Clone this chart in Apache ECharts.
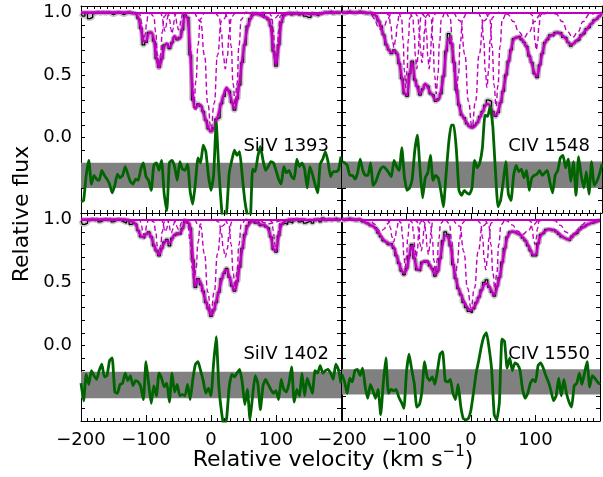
<!DOCTYPE html>
<html><head><meta charset="utf-8">
<script src="https://cdn.jsdelivr.net/npm/echarts@6/dist/echarts.min.js"></script>
<style>html,body{margin:0;padding:0;background:#fff}#c{width:603px;height:477px}</style>
</head><body><div id="c"></div>
<script>
// ---- data ----
const VEL = [-200,-196,-192,-188,-184,-180,-176,-172,-168,-164,-160,-156,-152,-148,-144,-140,-136,-132,-128,-124,-120,-116,-112,-108,-104,-100,-96,-92,-88,-84,-80,-76,-72,-68,-64,-60,-56,-52,-48,-44,-40,-36,-32,-28,-24,-20,-16,-12,-8,-4,0,4,8,12,16,20,24,28,32,36,40,44,48,52,56,60,64,68,72,76,80,84,88,92,96,100,104,108,112,116,120,124,128,132,136,140,144,148,152,156,160,164,168,172,176,180,184,188,192,196,200];

const LABELS = ['SiIV 1393','CIV 1548','SiIV 1402','CIV 1550'];
const X_TICKS = [-200,-100,0,100];
const Y_TICKS = [0.0,0.5,1.0];

// SiIV 1393 (top left)
const tlFlux = [0.99,0.97,0.99,0.95,0.96,0.99,1.0,0.99,1.0,0.99, 1.0,0.99,0.98,0.99,1.0,0.99,0.98,0.99,1.0,0.99,
 0.99,0.98,0.95,0.87,0.74,0.76,0.84,0.83,0.77,0.63, 0.56,0.63,0.74,0.75,0.71,0.76,0.80,0.78,0.80,0.86,
 0.98,0.96,0.66,0.30,0.24,0.27,0.25,0.21,0.14,0.07, 0.05,0.08,0.15,0.16,0.27,0.33,0.38,0.37,0.28,0.22,
 0.31,0.42,0.60,0.74,0.89,0.95,0.99,0.99,0.98,0.97, 0.99,0.96,0.94,0.89,0.69,0.57,0.74,0.92,0.98,0.99,
 1.0,0.98,0.99,1.0,0.98,0.99,0.97,0.96,0.96,0.99, 0.98,0.97,0.99,1.0,0.99,1.0,1.01,0.99,1.0,0.99,1.0];
const tlFit = [1,1,1,1,1,1,1,1,1,1, 1,1,1,1,1,1,1,1,1,1,
 0.995,0.99,0.96,0.88,0.77,0.77,0.83,0.84,0.78,0.64, 0.56,0.62,0.72,0.75,0.72,0.75,0.81,0.79,0.79,0.87,
 0.97,0.95,0.68,0.33,0.23,0.26,0.26,0.20,0.14,0.08, 0.05,0.07,0.13,0.20,0.28,0.35,0.40,0.36,0.29,0.23,
 0.30,0.45,0.62,0.76,0.87,0.94,0.975,0.985,0.985,0.98, 0.97,0.96,0.95,0.88,0.70,0.58,0.72,0.91,0.97,0.985,
 0.99,0.99,0.99,0.99,0.99,0.99,0.99,0.99,0.985,0.985, 0.985,0.985,0.985,0.99,1,1,1,1,1,1,1];
const tlResid = [-0.51,-0.50,-0.30,-0.18,-0.37,-0.30,-0.33,-0.34,-0.26,-0.30, -0.33,-0.37,-0.44,-0.38,-0.29,-0.32,-0.30,-0.23,-0.29,-0.35,
 -0.37,-0.33,-0.34,-0.25,-0.20,-0.31,-0.34,-0.42,-0.22,-0.20, -0.26,-0.18,-0.45,-0.58,-0.20,-0.18,-0.23,-0.34,-0.19,-0.25,
 -0.26,-0.21,-0.43,-0.53,-0.36,-0.16,-0.20,-0.06,-0.11,-0.30, -0.42,-0.30,0.12,-0.25,-0.55,-0.75,-0.60,-0.28,-0.18,-0.10,
 -0.14,-0.11,-0.30,-0.50,-0.62,-0.70,-0.25,-0.27,-0.15,-0.07, -0.18,-0.26,-0.23,-0.19,-0.20,-0.26,-0.33,-0.37,-0.23,-0.28,
 -0.26,-0.31,-0.33,-0.17,-0.23,-0.20,-0.25,-0.40,-0.23,-0.29, -0.37,-0.44,-0.21,-0.17,-0.11,-0.19,-0.31,-0.27,-0.27,-0.26,-0.15];
const tlBand = [-0.40,-0.20];
const tlComps = [
 [[-113,1],[-109.4,0.983],[-107,0.919],[-105,0.829],[-103,0.78],[-101,0.829],[-99,0.919],[-96.6,0.983],[-93,1]],
 [[-92.5,1],[-88,0.967],[-85,0.842],[-82.5,0.665],[-80,0.57],[-77.5,0.665],[-75,0.842],[-72,0.967],[-67.5,1]],
 [[-79.75,1],[-76.6,0.988],[-74.5,0.945],[-72.75,0.883],[-71,0.85],[-69.25,0.883],[-67.5,0.945],[-65.4,0.988],[-62.25,1]],
 [[-68.75,1],[-65.6,0.987],[-63.5,0.937],[-61.75,0.868],[-60,0.83],[-58.25,0.868],[-56.5,0.937],[-54.4,0.987],[-51.25,1]],
 [[-60,1],[-56.4,0.989],[-54,0.948],[-52,0.891],[-50,0.86],[-48,0.891],[-46,0.948],[-43.6,0.989],[-40,1]],
 [[-41,1],[-35.6,0.946],[-32,0.742],[-29,0.455],[-26,0.3],[-23,0.455],[-20,0.742],[-16.4,0.946],[-11,1]],
 [[-25,1],[-16,0.928],[-10,0.658],[-5,0.276],[0,0.07],[5,0.276],[10,0.658],[16,0.928],[25,1]],
 [[7,1],[12.4,0.965],[16,0.834],[19,0.649],[22,0.55],[25,0.649],[28,0.834],[31.6,0.965],[37,1]],
 [[22,1],[27.4,0.944],[31,0.731],[34,0.431],[37,0.27],[40,0.431],[43,0.731],[46.6,0.944],[52,1]],
 [[90,1],[93.6,0.969],[96,0.853],[98,0.688],[100,0.6],[102,0.688],[104,0.853],[106.4,0.969],[110,1]],
 [[52.5,1],[66,0.995],[75,0.978],[82.5,0.953],[90,0.94],[97.5,0.953],[105,0.978],[114,0.995],[127.5,1]]
];

// CIV 1548 (top right)
const trFlux = [1.0,0.99,1.0,1.01,1.0,0.99,1.0,1.01,1.0,0.99, 0.99,1.0,0.98,0.97,0.93,0.89,0.82,0.74,0.70,0.67,
 0.70,0.67,0.59,0.47,0.35,0.33,0.51,0.61,0.46,0.41, 0.34,0.39,0.42,0.41,0.35,0.34,0.29,0.31,0.35,0.49,
 0.69,0.83,0.75,0.60,0.38,0.26,0.18,0.16,0.11,0.09, 0.08,0.10,0.12,0.17,0.21,0.26,0.30,0.29,0.21,0.17,
 0.20,0.28,0.37,0.50,0.61,0.70,0.79,0.80,0.81,0.78, 0.76,0.73,0.65,0.60,0.51,0.48,0.58,0.67,0.76,0.78,
 0.82,0.81,0.84,0.83,0.84,0.80,0.80,0.76,0.73,0.75, 0.77,0.78,0.82,0.83,0.87,0.88,0.91,0.94,0.95,0.97,0.99];
const trFit = [1,1,1,1,1,1,1,1,1,1, 0.995,0.995,0.99,0.97,0.94,0.88,0.82,0.75,0.70,0.68,
 0.69,0.68,0.60,0.48,0.36,0.34,0.50,0.60,0.47,0.40, 0.35,0.38,0.43,0.40,0.36,0.33,0.30,0.30,0.37,0.48,
 0.68,0.79,0.76,0.61,0.40,0.26,0.19,0.15,0.12,0.09, 0.08,0.09,0.12,0.16,0.20,0.25,0.27,0.25,0.20,0.18,
 0.21,0.28,0.38,0.49,0.60,0.70,0.78,0.80,0.80,0.79, 0.76,0.72,0.66,0.59,0.52,0.49,0.57,0.67,0.75,0.79,
 0.81,0.82,0.83,0.84,0.83,0.81,0.79,0.76,0.745,0.75, 0.77,0.79,0.81,0.84,0.86,0.89,0.91,0.93,0.95,0.97,0.99];
const trResid = [-0.19,-0.20,-0.22,-0.30,-0.30,-0.33,-0.28,-0.17,-0.26,-0.30, -0.30,-0.20,-0.38,-0.35,-0.29,-0.245,-0.23,-0.25,-0.28,-0.31,
 -0.18,-0.23,-0.26,-0.08,-0.31,-0.42,-0.40,-0.33,-0.10,0.02, -0.25,-0.48,-0.32,-0.28,-0.14,-0.34,-0.30,-0.32,-0.42,-0.55,
 -0.30,-0.05,0.10,0.10,-0.10,-0.42,-0.46,-0.42,-0.44,-0.45, -0.40,-0.18,-0.24,-0.20,-0.08,0.18,0.17,0.25,0.09,-0.26,
 -0.55,-0.50,-0.35,-0.19,-0.45,-0.50,-0.30,-0.22,-0.27,-0.25, -0.32,-0.26,-0.42,-0.32,-0.30,-0.29,-0.26,-0.30,-0.28,-0.26,
 -0.36,-0.44,-0.30,-0.26,-0.16,-0.14,-0.24,-0.17,-0.35,-0.19, -0.46,-0.15,-0.30,-0.40,-0.27,-0.45,-0.19,-0.38,-0.35,-0.29,-0.21];
const trBand = [-0.40,-0.19];
const trComps = [
 [[-165,1],[-156,0.989],[-150,0.948],[-145,0.891],[-140,0.86],[-135,0.891],[-130,0.948],[-124,0.989],[-115,1]],
 [[-132.5,1],[-128,0.978],[-125,0.897],[-122.5,0.782],[-120,0.72],[-117.5,0.782],[-115,0.897],[-112,0.978],[-107.5,1]],
 [[-112,1],[-108.4,0.954],[-106,0.779],[-104,0.533],[-102,0.4],[-100,0.533],[-98,0.779],[-95.6,0.954],[-92,1]],
 [[-95,1],[-91.4,0.965],[-89,0.834],[-87,0.649],[-85,0.55],[-83,0.649],[-81,0.834],[-78.6,0.965],[-75,1]],
 [[-87,1],[-83.4,0.969],[-81,0.853],[-79,0.688],[-77,0.6],[-75,0.688],[-73,0.853],[-70.6,0.969],[-67,1]],
 [[-76,1],[-72.4,0.965],[-70,0.834],[-68,0.649],[-66,0.55],[-64,0.649],[-62,0.834],[-59.6,0.965],[-56,1]],
 [[-67.5,1],[-63,0.95],[-60,0.761],[-57.5,0.494],[-55,0.35],[-52.5,0.494],[-50,0.761],[-47,0.95],[-42.5,1]],
 [[-39,1],[-33.6,0.95],[-30,0.761],[-27,0.494],[-24,0.35],[-21,0.494],[-18,0.761],[-14.4,0.95],[-9,1]],
 [[-27.5,1],[-17.6,0.93],[-11,0.665],[-5.5,0.291],[0,0.09],[5.5,0.291],[11,0.665],[17.6,0.93],[27.5,1]],
 [[10.5,1],[15,0.954],[18,0.779],[20.5,0.533],[23,0.4],[25.5,0.533],[28,0.779],[31,0.954],[35.5,1]],
 [[22,1],[27.4,0.942],[31,0.724],[34,0.416],[37,0.25],[40,0.416],[43,0.724],[46.6,0.942],[52,1]],
 [[40,1],[54.4,0.985],[64,0.926],[72,0.844],[80,0.8],[88,0.844],[96,0.926],[105.6,0.985],[120,1]],
 [[89,1],[92.6,0.977],[95,0.89],[97,0.766],[99,0.7],[101,0.766],[103,0.89],[105.4,0.977],[109,1]],
 [[115,1],[129.4,0.985],[139,0.926],[147,0.844],[155,0.8],[163,0.844],[171,0.926],[180.6,0.985],[195,1]]
];

// SiIV 1402 (bottom left)
const blFlux = [0.99,0.96,0.97,0.99,1.0,0.99,1.0,0.98,0.99,1.0, 0.99,1.0,0.98,0.99,1.0,0.99,0.98,0.97,0.99,0.96,
 0.97,0.96,0.91,0.86,0.85,0.88,0.90,0.86,0.79,0.75, 0.71,0.77,0.82,0.84,0.79,0.85,0.87,0.89,0.88,0.93,
 0.99,0.97,0.93,0.68,0.46,0.53,0.48,0.43,0.34,0.29, 0.23,0.28,0.34,0.42,0.53,0.57,0.61,0.54,0.47,0.43,
 0.51,0.62,0.77,0.88,0.95,0.98,0.99,0.97,0.98,0.95, 0.96,0.94,0.93,0.86,0.76,0.74,0.87,0.96,0.97,0.96,
 0.98,0.97,0.99,1.0,0.98,0.99,0.97,0.98,0.99,0.97, 0.99,1.0,0.98,1.01,0.99,1.0,0.99,1.0,1.01,0.99,1.0];
const blFit = [1,1,1,1,1,1,1,1,1,1, 1,1,1,1,1,1,1,1,0.995,0.985,
 0.98,0.96,0.91,0.87,0.86,0.88,0.89,0.86,0.80,0.75, 0.72,0.76,0.81,0.83,0.81,0.84,0.88,0.88,0.89,0.92,
 0.98,0.98,0.94,0.70,0.47,0.52,0.50,0.42,0.35,0.29, 0.24,0.27,0.35,0.43,0.51,0.58,0.60,0.55,0.48,0.44,
 0.49,0.63,0.76,0.87,0.94,0.97,0.985,0.98,0.97,0.96, 0.955,0.95,0.92,0.86,0.77,0.75,0.86,0.95,0.98,0.99,
 1,1,1,1,1,1,1,0.995,0.995,0.995, 1,1,1,1,1,1,1,1,1,1,1];
const blResid = [-0.30,-0.44,-0.23,-0.31,-0.20,-0.24,-0.27,-0.20,-0.15,-0.25, -0.24,-0.12,-0.10,-0.37,-0.38,-0.31,-0.30,-0.22,-0.28,-0.24,
 -0.32,-0.28,-0.29,-0.33,-0.43,-0.13,-0.30,-0.46,-0.32,-0.40, -0.22,-0.26,-0.33,-0.30,-0.45,-0.22,-0.37,-0.31,-0.40,-0.39,
 -0.40,-0.31,-0.43,-0.27,-0.15,-0.13,-0.20,-0.28,-0.38,-0.34, -0.40,-0.14,0.07,-0.32,-0.52,-0.65,-0.58,-0.33,-0.23,-0.25,
 -0.22,-0.19,-0.29,-0.47,-0.35,-0.59,-0.40,-0.24,-0.30,-0.51, -0.32,-0.27,-0.31,-0.35,-0.38,-0.36,-0.43,-0.27,-0.35,-0.37,
 -0.30,-0.17,-0.45,-0.35,-0.40,-0.22,-0.40,-0.26,-0.32,-0.38, -0.20,-0.22,-0.16,-0.22,-0.20,-0.19,-0.22,-0.27,-0.15,-0.19,-0.30];
const blBand = [-0.42,-0.21];
const blComps = [
 [[-113,1],[-109.4,0.99],[-107,0.952],[-105,0.899],[-103,0.87],[-101,0.899],[-99,0.952],[-96.6,0.99],[-93,1]],
 [[-92.5,1],[-88,0.979],[-85,0.901],[-82.5,0.79],[-80,0.73],[-77.5,0.79],[-75,0.901],[-72,0.979],[-67.5,1]],
 [[-78.75,1],[-75.6,0.992],[-73.5,0.963],[-71.75,0.922],[-70,0.9],[-68.25,0.922],[-66.5,0.963],[-64.4,0.992],[-61.25,1]],
 [[-69.75,1],[-66.6,0.992],[-64.5,0.96],[-62.75,0.914],[-61,0.89],[-59.25,0.914],[-57.5,0.96],[-55.4,0.992],[-52.25,1]],
 [[-60,1],[-56.4,0.994],[-54,0.971],[-52,0.938],[-50,0.92],[-48,0.938],[-46,0.971],[-43.6,0.994],[-40,1]],
 [[-41,1],[-35.6,0.962],[-32,0.816],[-29,0.611],[-26,0.5],[-23,0.611],[-20,0.816],[-16.4,0.962],[-11,1]],
 [[-25,1],[-16,0.943],[-10,0.728],[-5,0.424],[0,0.26],[5,0.424],[10,0.728],[16,0.943],[25,1]],
 [[7,1],[12.4,0.977],[16,0.89],[19,0.766],[22,0.7],[25,0.766],[28,0.89],[31.6,0.977],[37,1]],
 [[22,1],[27.4,0.958],[31,0.801],[34,0.579],[37,0.46],[40,0.579],[43,0.801],[46.6,0.958],[52,1]],
 [[90,1],[93.6,0.981],[96,0.908],[98,0.805],[100,0.75],[102,0.805],[104,0.908],[106.4,0.981],[110,1]],
 [[52.5,1],[66,0.997],[75,0.987],[82.5,0.973],[90,0.965],[97.5,0.973],[105,0.987],[114,0.997],[127.5,1]]
];

// CIV 1550 (bottom right)
const brFlux = [1.0,0.99,1.0,1.01,1.0,0.99,0.99,1.0,0.98,0.97, 0.97,0.95,0.94,0.93,0.89,0.86,0.83,0.82,0.80,0.81,
 0.77,0.71,0.65,0.59,0.56,0.61,0.71,0.80,0.69,0.60, 0.59,0.66,0.66,0.67,0.63,0.61,0.55,0.59,0.69,0.83,
 0.90,0.88,0.79,0.64,0.53,0.45,0.40,0.34,0.30,0.27, 0.26,0.29,0.34,0.38,0.44,0.50,0.52,0.46,0.42,0.39,
 0.47,0.54,0.66,0.77,0.86,0.90,0.90,0.89,0.88,0.87, 0.85,0.83,0.79,0.75,0.71,0.71,0.81,0.88,0.89,0.92,
 0.92,0.91,0.92,0.90,0.88,0.86,0.85,0.84,0.83,0.86, 0.88,0.89,0.92,0.94,0.94,0.96,0.97,0.97,0.98,0.99,0.99];
const brFit = [1,1,1,1,1,1,1,1,0.99,0.975, 0.965,0.955,0.945,0.925,0.90,0.87,0.84,0.82,0.81,0.80,
 0.78,0.72,0.66,0.60,0.575,0.60,0.70,0.79,0.70,0.61, 0.60,0.65,0.67,0.665,0.64,0.60,0.565,0.58,0.68,0.80,
 0.87,0.86,0.80,0.66,0.54,0.46,0.41,0.36,0.32,0.29, 0.28,0.30,0.33,0.38,0.43,0.48,0.49,0.47,0.43,0.40,
 0.45,0.53,0.64,0.75,0.85,0.89,0.905,0.90,0.89,0.88, 0.86,0.835,0.80,0.76,0.72,0.72,0.80,0.87,0.895,0.91,
 0.92,0.92,0.915,0.905,0.89,0.87,0.855,0.845,0.84,0.855, 0.88,0.90,0.915,0.93,0.945,0.955,0.965,0.975,0.98,0.985,0.99];
const brResid = [-0.23,-0.29,-0.38,-0.26,-0.29,-0.20,-0.19,-0.24,-0.18,-0.33, -0.42,-0.31,-0.36,-0.42,-0.35,-0.55,-0.30,-0.10,-0.38,-0.35,
 -0.36,-0.35,-0.41,-0.45,-0.50,-0.21,-0.07,-0.19,-0.30,-0.49, -0.47,-0.36,-0.13,-0.25,-0.28,-0.25,-0.31,-0.20,-0.07,-0.05,
 -0.28,-0.29,-0.27,-0.38,-0.43,-0.31,-0.48,-0.58,-0.59,-0.58, -0.51,-0.37,-0.22,-0.12,-0.01,0.07,0.10,-0.02,-0.19,-0.55,
 -0.59,-0.45,0.05,0.03,-0.18,-0.10,-0.20,-0.14,-0.15,-0.20, -0.35,-0.42,-0.38,-0.30,-0.27,-0.29,-0.16,-0.14,-0.18,-0.24,
 -0.29,-0.36,-0.44,-0.40,-0.26,-0.40,-0.27,-0.38,-0.45,-0.49, -0.32,-0.30,-0.22,-0.31,-0.22,-0.13,-0.33,-0.24,-0.26,-0.29,-0.31];
const brBand = [-0.39,-0.19];
const brComps = [
 [[-165,1],[-156,0.992],[-150,0.963],[-145,0.922],[-140,0.9],[-135,0.922],[-130,0.963],[-124,0.992],[-115,1]],
 [[-132.5,1],[-128,0.986],[-125,0.934],[-122.5,0.86],[-120,0.82],[-117.5,0.86],[-115,0.934],[-112,0.986],[-107.5,1]],
 [[-112,1],[-108.4,0.971],[-106,0.86],[-104,0.704],[-102,0.62],[-100,0.704],[-98,0.86],[-95.6,0.971],[-92,1]],
 [[-95,1],[-91.4,0.977],[-89,0.89],[-87,0.766],[-85,0.7],[-83,0.766],[-81,0.89],[-78.6,0.977],[-75,1]],
 [[-87,1],[-83.4,0.981],[-81,0.908],[-79,0.805],[-77,0.75],[-75,0.805],[-73,0.908],[-70.6,0.981],[-67,1]],
 [[-76,1],[-72.4,0.978],[-70,0.897],[-68,0.782],[-66,0.72],[-64,0.782],[-62,0.897],[-59.6,0.978],[-56,1]],
 [[-67.5,1],[-63,0.968],[-60,0.845],[-57.5,0.673],[-55,0.58],[-52.5,0.673],[-50,0.845],[-47,0.968],[-42.5,1]],
 [[-39,1],[-33.6,0.965],[-30,0.834],[-27,0.649],[-24,0.55],[-21,0.649],[-18,0.834],[-14.4,0.965],[-9,1]],
 [[-27.5,1],[-17.6,0.946],[-11,0.742],[-5.5,0.455],[0,0.3],[5.5,0.455],[11,0.742],[17.6,0.946],[27.5,1]],
 [[10.5,1],[15,0.969],[18,0.853],[20.5,0.688],[23,0.6],[25.5,0.688],[28,0.853],[31,0.969],[35.5,1]],
 [[22,1],[27.4,0.958],[31,0.798],[34,0.572],[37,0.45],[40,0.572],[43,0.798],[46.6,0.958],[52,1]],
 [[40,1],[54.4,0.991],[64,0.956],[72,0.907],[80,0.88],[88,0.907],[96,0.956],[105.6,0.991],[120,1]],
 [[89,1],[92.6,0.985],[95,0.926],[97,0.844],[99,0.8],[101,0.844],[103,0.926],[105.4,0.985],[109,1]],
 [[115,1],[129.4,0.99],[139,0.952],[147,0.899],[155,0.87],[163,0.899],[171,0.952],[180.6,0.99],[195,1]]
];

// ---- chart ----
const PANELS = [
  {flux: tlFlux, fit: tlFit, resid: tlResid, band: tlBand, comps: tlComps},
  {flux: trFlux, fit: trFit, resid: trResid, band: trBand, comps: trComps},
  {flux: blFlux, fit: blFit, resid: blResid, band: blBand, comps: blComps},
  {flux: brFlux, fit: brFit, resid: brResid, band: brBand, comps: brComps}
];
const FONT = "'DejaVu Sans', 'Liberation Sans', sans-serif";
const MAG = '#bf00bf';
const grids = [
  {left: 81, top: 6, width: 260, height: 207},
  {left: 342, top: 6, width: 260, height: 207},
  {left: 81, top: 213, width: 260, height: 208},
  {left: 342, top: 213, width: 260, height: 208}
];
const minus = v => (v < 0 ? '\u2212' + Math.abs(v) : String(v));
const xAxes = [], yAxes = [];
grids.forEach((g, gi) => {
  const bottomRow = gi >= 2, leftCol = gi % 2 === 0;
  ['bottom', 'top'].forEach(pos => {
    xAxes.push({
      gridIndex: gi, type: 'value', min: -200, max: 200, interval: 100, position: pos,
      axisLine: {show: true, onZero: false, lineStyle: {color: '#000', width: 1}},
      axisTick: {show: true, inside: true, length: 6, lineStyle: {color: '#000', width: 1}},
      minorTick: {show: true, splitNumber: 10, length: 3, lineStyle: {color: '#000', width: 1}},
      splitLine: {show: false}, minorSplitLine: {show: false},
      axisLabel: {show: bottomRow && pos === 'bottom', margin: 10, color: '#000', fontFamily: FONT, fontSize: 18,
        formatter: v => (X_TICKS.indexOf(v) >= 0 ? minus(v) : '')}
    });
  });
  ['left', 'right'].forEach(pos => {
    yAxes.push({
      gridIndex: gi, type: 'value', min: -0.6, max: 1.05, interval: 0.1, position: pos,
      axisLine: {show: true, onZero: false, lineStyle: {color: '#000', width: 1}},
      axisTick: {show: true, inside: true, length: 4, lineStyle: {color: '#000', width: 1}},
      splitLine: {show: false},
      axisLabel: {show: leftCol && pos === 'left', margin: 9, color: '#000', fontFamily: FONT, fontSize: 18,
        formatter: v => {
          const hit = Y_TICKS.find(t => Math.abs(t - v) < 1e-6);
          return hit === undefined ? '' : hit.toFixed(1);
        }}
    });
  });
});

const series = [];
PANELS.forEach((p, gi) => {
  const xi = gi * 2, yi = gi * 2;
  const dataPts = VEL.map((v, i) => [v, p.flux[i]]);
  series.push({type: 'line', xAxisIndex: xi, yAxisIndex: yi, data: dataPts, step: 'middle', symbol: 'none',
    lineStyle: {color: '#c8c8c8', width: 5}, z: 1, silent: true});
  series.push({type: 'line', xAxisIndex: xi, yAxisIndex: yi, data: dataPts, step: 'middle', symbol: 'none',
    lineStyle: {color: '#000', width: 1.3}, z: 2, silent: true});
  p.comps.forEach(c => {
    series.push({type: 'line', xAxisIndex: xi, yAxisIndex: yi, data: c, smooth: true, smoothMonotone: 'x', symbol: 'none',
      lineStyle: {color: MAG, width: 1.4, type: [5, 3]}, z: 3, silent: true});
  });
  const fitPts = VEL.map((v, i) => [v, p.fit[i]]);
  series.push({type: 'line', xAxisIndex: xi, yAxisIndex: yi, data: fitPts, smooth: 0.3, symbol: 'none',
    lineStyle: {color: 'rgba(191,0,191,0.3)', width: 4.5}, z: 4, silent: true,
    markLine: {silent: true, symbol: 'none', label: {show: false},
      lineStyle: {color: MAG, width: 2, type: 'solid'}, data: [{yAxis: 1}]}});
  series.push({type: 'line', xAxisIndex: xi, yAxisIndex: yi, data: fitPts, smooth: 0.3, symbol: 'none',
    lineStyle: {color: MAG, width: 2.2}, z: 5, silent: true});
  series.push({type: 'line', xAxisIndex: xi, yAxisIndex: yi, data: VEL.map((v, i) => [v, p.resid[i]]),
    smooth: 0.15, symbol: 'none', lineStyle: {color: '#006400', width: 2.8}, z: 6, silent: true,
    markArea: {silent: true, itemStyle: {color: '#808080', opacity: 1},
      data: [[{yAxis: p.band[0]}, {yAxis: p.band[1]}]]}});
});

const labelPos = [[329, 146], [590, 146], [329, 354], [590, 354]];
const graphic = LABELS.map((t, i) => ({
  type: 'text', x: labelPos[i][0], y: labelPos[i][1], z: 100,
  style: {text: t, fill: '#000', font: "18px " + FONT, textAlign: 'right', textVerticalAlign: 'middle', align: 'right', verticalAlign: 'middle'}
}));
graphic.push({type: 'text', x: 22, y: 214, rotation: Math.PI / 2, z: 100,
  style: {text: 'Relative flux', fill: '#000', font: "22px " + FONT, textAlign: 'center', textVerticalAlign: 'middle', align: 'center', verticalAlign: 'middle'}});
graphic.push({type: 'text', x: 333, y: 460, z: 100,
  style: {text: 'Relative velocity (km s{sup|\u22121})', fill: '#000', font: "22px " + FONT,
    fontFamily: FONT, fontSize: 22, lineHeight: 30,
    textAlign: 'center', textVerticalAlign: 'middle', align: 'center', verticalAlign: 'middle',
    rich: {sup: {fontFamily: FONT, fontSize: 15, verticalAlign: 'top', lineHeight: 16, fill: '#000'}}}});

const chart = echarts.init(document.getElementById('c'), null, {renderer: 'canvas'});
chart.setOption({
  animation: false,
  backgroundColor: '#fff',
  grid: grids,
  xAxis: xAxes,
  yAxis: yAxes,
  series: series,
  graphic: graphic
});
</script>
</body></html>
